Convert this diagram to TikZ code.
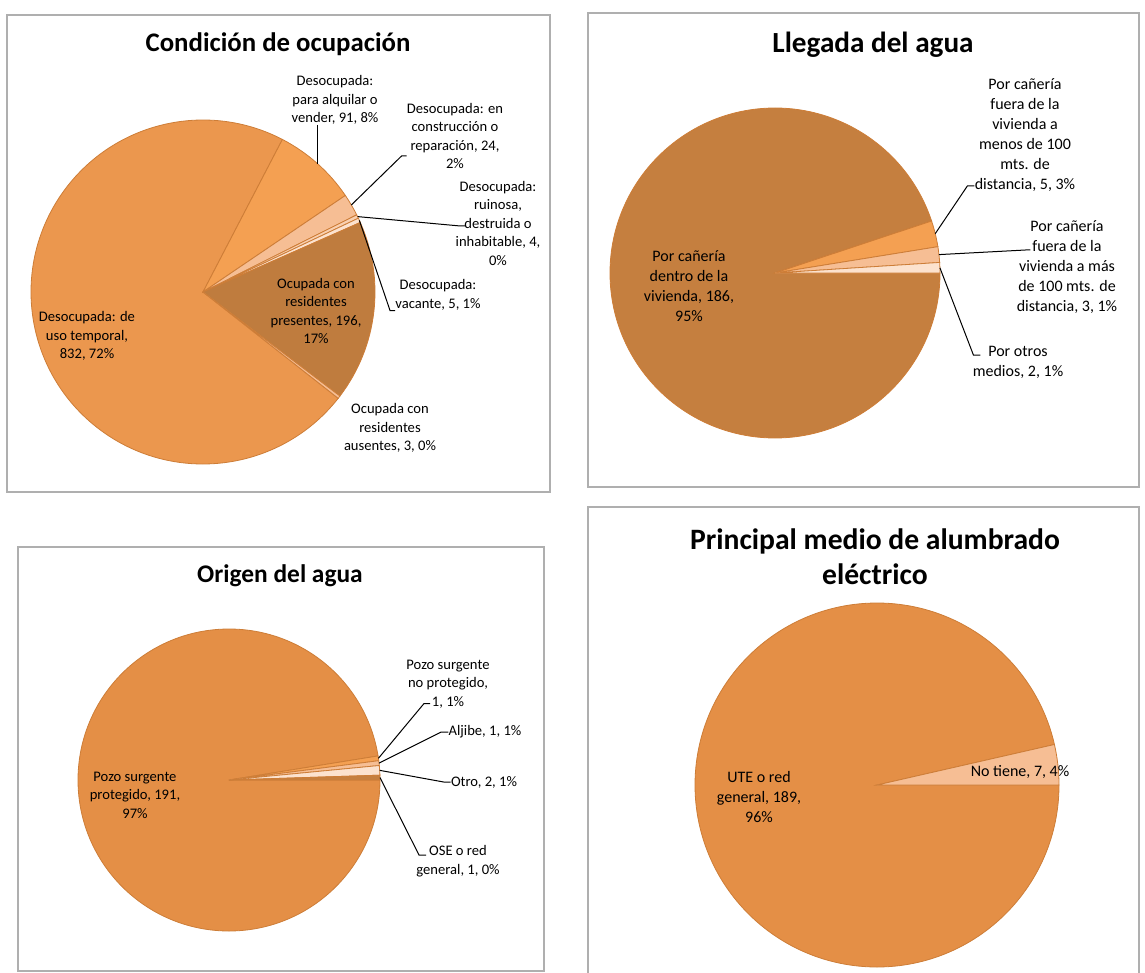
\documentclass[tikz,border=0pt]{standalone}
\usepackage{fontspec}
\setmainfont{Carlito}
\definecolor{temporal}{RGB}{235,151,78}
\definecolor{presentes}{RGB}{191,124,62}
\definecolor{alquilar}{RGB}{244,160,82}
\definecolor{peach}{RGB}{246,190,148}
\definecolor{peachlight}{RGB}{249,208,176}
\definecolor{pale}{RGB}{252,226,206}
\definecolor{llegada}{RGB}{197,127,63}
\definecolor{pozo}{RGB}{228,143,70}
\definecolor{sliceline}{RGB}{205,125,55}
\definecolor{framegray}{RGB}{175,175,175}
\tikzset{
  slice/.style={draw=sliceline,line width=0.4pt},
  lead/.style={draw=black,line width=0.5pt},
  frame/.style={draw=framegray,line width=0.9pt},
  ttl/.style={align=center,inner sep=0pt,font=\bfseries\fontsize{13.4}{17.5}\selectfont},
  lbl/.style={align=center,inner sep=0pt,font=\fontsize{7.3}{9.25}\selectfont},
  lblb/.style={align=center,inner sep=0pt,font=\fontsize{8}{10}\selectfont}
}
\begin{document}
\begin{tikzpicture}[x=0.5pt,y=-0.5pt]
\useasboundingbox (0,0) rectangle (1145,973);
\draw[frame] (7,15) rectangle (550,492);
\draw[frame] (588,13) rectangle (1139,487);
\draw[frame] (18,547) rectangle (544,971);
\draw[frame] (588,980) -- (588,507) -- (1139,507) -- (1139,980);

% Condicion de ocupacion
\node[ttl] (t1) at (278,44) {Condición de ocupación};
\begin{scope}[shift={(203,292)},yscale=-1]
\filldraw[slice,fill=temporal] (0,0) -- (-38.18:172) arc (-38.18:-297.5:172) -- cycle;
\filldraw[slice,fill=alquilar] (0,0) -- (62.5:172) arc (62.5:34.14:172) -- cycle;
\filldraw[slice,fill=peach] (0,0) -- (34.14:172) arc (34.14:26.66:172) -- cycle;
\filldraw[slice,fill=peachlight] (0,0) -- (26.66:172) arc (26.66:25.41:172) -- cycle;
\filldraw[slice,fill=pale] (0,0) -- (25.41:172) arc (25.41:23.85:172) -- cycle;
\filldraw[slice,fill=presentes] (0,0) -- (23.85:172) arc (23.85:-37.24:172) -- cycle;
\filldraw[slice,fill=peach] (0,0) -- (-37.24:172) arc (-37.24:-38.18:172) -- cycle;
\coordinate (pAlq) at (48.3:172);
\coordinate (pCon) at (30.4:172);
\coordinate (pRui) at (26:172);
\coordinate (pVac) at (24.6:172);
\end{scope}
\node[lbl] (lAlq) at (335,100) {Desocupada:\\para alquilar o\\vender, 91, 8\%};
\node[lbl] (lCon) at (455,136) {Desocupada: en\\construcción o\\reparación, 24,\\2\%};
\node[lbl] (lRui) at (498,223) {Desocupada:\\ruinosa,\\destruida o\\inhabitable, 4,\\0\%};
\node[lbl] (lVac) at (438,295) {Desocupada:\\vacante, 5, 1\%};
\node[lbl] (lPre) at (316,311) {Ocupada con\\residentes\\presentes, 196,\\17\%};
\node[lbl] (lAus) at (390,428) {Ocupada con\\residentes\\ausentes, 3, 0\%};
\node[lbl] (lTem) at (87,336) {Desocupada: de\\uso temporal,\\832, 72\%};
\draw[lead] (lAlq.south -| pAlq) -- (pAlq);
\draw[lead] ([yshift=-10pt]lCon.west) -- ++(-5,0) -- (pCon);
\draw[lead] ([xshift=5pt,yshift=-1.5pt]lRui.west) -- ++(-5,0) -- (pRui);
\draw[lead] (lVac.south west) -- ++(-5,0) -- (pVac);

% Llegada del agua
\node[ttl,font=\bfseries\fontsize{14.6}{18}\selectfont] (t2) at (873,45) {Llegada del agua};
\begin{scope}[shift={(775,273)},yscale=-1]
\filldraw[slice,fill=llegada] (0,0) -- (0:165) arc (0:-341.63:165) -- cycle;
\filldraw[slice,fill=alquilar] (0,0) -- (18.37:165) arc (18.37:9.18:165) -- cycle;
\filldraw[slice,fill=peach] (0,0) -- (9.18:165) arc (9.18:3.67:165) -- cycle;
\filldraw[slice,fill=pale] (0,0) -- (3.67:165) arc (3.67:0:165) -- cycle;
\coordinate (pMen) at (13.8:165);
\coordinate (pMas) at (6.4:165);
\coordinate (pOtr) at (1.8:165);
\end{scope}
\node[lblb] (lMen) at (1025,135) {Por cañería\\fuera de la\\vivienda a\\menos de 100\\mts. de\\distancia, 5, 3\%};
\node[lblb] (lMas) at (1067,267) {Por cañería\\fuera de la\\vivienda a más\\de 100 mts. de\\distancia, 3, 1\%};
\node[lblb] (lOtr) at (1018,362) {Por otros\\medios, 2, 1\%};
\node[lblb] (lDen) at (689,286) {Por cañería\\dentro de la\\vivienda, 186,\\95\%};
\draw[lead] ([yshift=3pt]lMen.south west) -- ++(-7,0) -- (pMen);
\draw[lead] ([xshift=7pt,yshift=8.5pt]lMas.west) -- ++(-5,0) -- (pMas);
\draw[lead] ([xshift=4pt,yshift=3.5pt]lOtr.west) -- ++(-7,0) -- (pOtr);

% Origen del agua
\node[ttl,font=\bfseries\fontsize{12.7}{16}\selectfont] (t3) at (280,576) {Origen del agua};
\begin{scope}[shift={(229,780)},yscale=-1]
\filldraw[slice,fill=pozo] (0,0) -- (0:151) arc (0:-350.82:151) -- cycle;
\filldraw[slice,fill=alquilar] (0,0) -- (9.18:151) arc (9.18:7.35:151) -- cycle;
\filldraw[slice,fill=peach] (0,0) -- (7.35:151) arc (7.35:5.51:151) -- cycle;
\filldraw[slice,fill=pale] (0,0) -- (5.51:151) arc (5.51:1.84:151) -- cycle;
\filldraw[slice,fill=llegada] (0,0) -- (1.84:151) arc (1.84:0:151) -- cycle;
\coordinate (pNop) at (8.27:151);
\coordinate (pAlj) at (6.43:151);
\coordinate (pOtro) at (3.67:151);
\coordinate (pOse) at (0.92:151);
\end{scope}
\node[lbl] (lNop) at (448,684) {Pozo surgente\\no protegido,\\1, 1\%};
\node[lbl] (lAlj) at (485,732) {Aljibe, 1, 1\%};
\node[lbl] (lOtro) at (484,782) {Otro, 2, 1\%};
\node[lbl] (lOse) at (458,861) {OSE o red\\general, 1, 0\%};
\node[lbl] (lPoz) at (135,795) {Pozo surgente\\protegido, 191,\\97\%};
\draw[lead] ([xshift=-9pt,yshift=2.5pt]lNop.south) -- ++(-6,0) -- (pNop);
\draw[lead] (lAlj.west) -- ++(-7,0) -- (pAlj);
\draw[lead] (lOtro.west) -- ++(-7,0) -- (pOtro);
\draw[lead] ([xshift=5pt,yshift=3pt]lOse.west) -- ++(-7,0) -- (pOse);

% Principal medio de alumbrado electrico
\node[ttl,font=\bfseries\fontsize{14.8}{17.5}\selectfont] (t4) at (875,557) {Principal medio de alumbrado\\eléctrico};
\begin{scope}[shift={(877,785)},yscale=-1]
\filldraw[slice,fill=pozo] (0,0) -- (0:182) arc (0:-347.14:182) -- cycle;
\filldraw[slice,fill=peach] (0,0) -- (12.86:182) arc (12.86:0:182) -- cycle;
\end{scope}
\node[lblb] (lNot) at (1020,772) {No tiene, 7, 4\%};
\node[lblb] (lUte) at (759,797) {UTE o red\\general, 189,\\96\%};
\end{tikzpicture}
\end{document}
